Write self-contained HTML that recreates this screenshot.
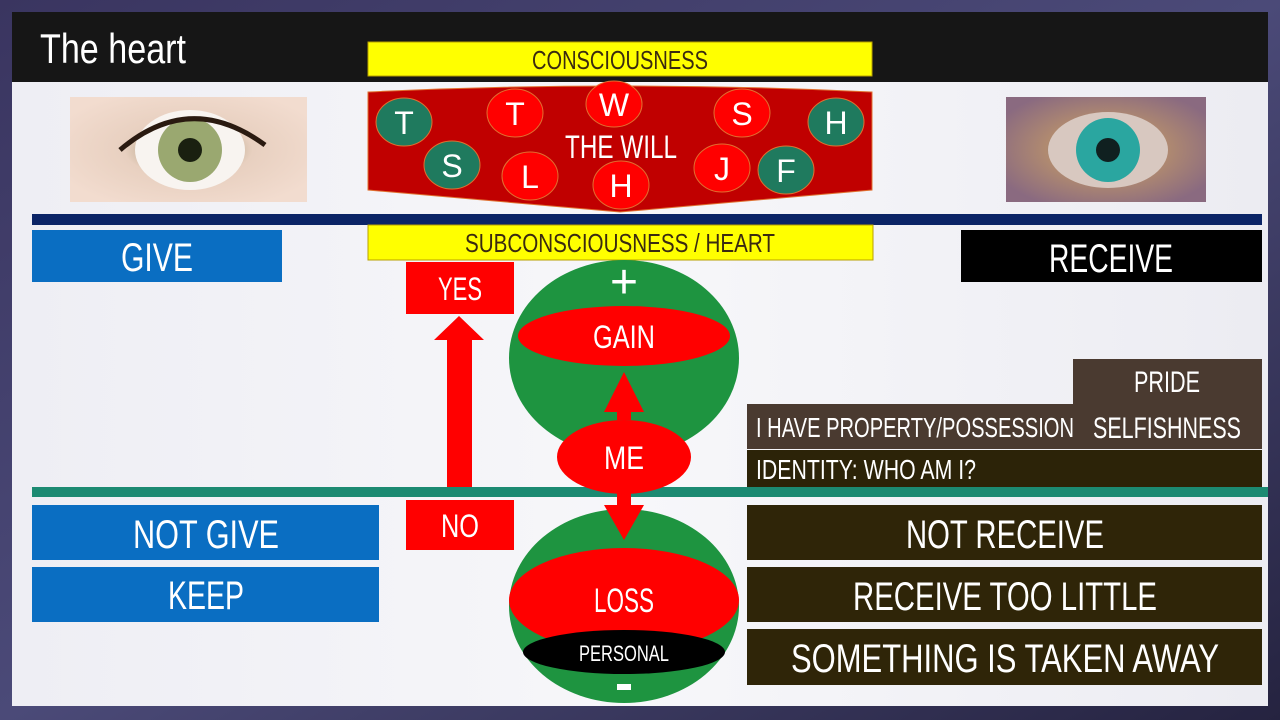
<!DOCTYPE html>
<html><head><meta charset="utf-8"><style>
html,body{margin:0;padding:0;background:#2a2748;}
svg{display:block}
text{font-family:"Liberation Sans Narrow","Liberation Sans",sans-serif;fill:#fff}
</style></head><body>
<svg width="1280" height="720" viewBox="0 0 1280 720" xmlns="http://www.w3.org/2000/svg">
<defs>
<linearGradient id="bg" x1="0" y1="0" x2="1" y2="1"><stop offset="0" stop-color="#3a3560"/><stop offset="0.5" stop-color="#4b4a78"/><stop offset="1" stop-color="#252340"/></linearGradient>
<linearGradient id="panel" x1="0" y1="0" x2="1" y2="0"><stop offset="0" stop-color="#eeeef4"/><stop offset="0.5" stop-color="#f7f7fa"/><stop offset="1" stop-color="#ececf2"/></linearGradient>
<radialGradient id="eye1" cx="0.5" cy="0.5" r="0.6"><stop offset="0" stop-color="#2a3a20"/><stop offset="0.12" stop-color="#8a9a60"/><stop offset="0.22" stop-color="#b5a68a"/><stop offset="0.45" stop-color="#e8d0c0"/><stop offset="1" stop-color="#f2dccf"/></radialGradient>
<radialGradient id="eye2" cx="0.5" cy="0.5" r="0.6"><stop offset="0" stop-color="#102020"/><stop offset="0.12" stop-color="#2aa6a0"/><stop offset="0.25" stop-color="#6a7070"/><stop offset="0.5" stop-color="#b08a70"/><stop offset="1" stop-color="#8a6a80"/></radialGradient>
</defs>
<rect width="1280" height="720" fill="url(#bg)"/>
<rect x="12" y="12" width="1256" height="694" fill="url(#panel)"/>
<rect x="12" y="12" width="1256" height="70" fill="#161616"/>
<text x="40" y="63" font-size="42" font-family="Liberation Sans Narrow" textLength="146" lengthAdjust="spacingAndGlyphs">The heart</text>

<rect x="368" y="42" width="504" height="34" fill="#ffff00" stroke="#b8a000" stroke-width="1"/>
<text x="620" y="69" font-size="26" text-anchor="middle" style="fill:#3a2a10" textLength="176" lengthAdjust="spacingAndGlyphs">CONSCIOUSNESS</text>

<!-- eyes -->
<rect x="70" y="97" width="237" height="105" fill="url(#eye1)"/>
<ellipse cx="190" cy="150" rx="55" ry="40" fill="#f8f4f0"/>
<circle cx="190" cy="150" r="32" fill="#9aa870"/>
<circle cx="190" cy="150" r="12" fill="#1a2010"/>
<path d="M120 150 Q190 90 265 145" stroke="#2a1a10" stroke-width="5" fill="none"/>
<rect x="1006" y="97" width="200" height="105" fill="url(#eye2)"/>
<ellipse cx="1108" cy="150" rx="60" ry="38" fill="#d8c8c0"/>
<circle cx="1108" cy="150" r="32" fill="#2aa6a0"/>
<circle cx="1108" cy="150" r="12" fill="#102020"/>

<!-- will -->
<path d="M368 92 Q620 80 872 92 L872 190 L620 212 L368 190 Z" fill="#c00000" stroke="#e07030" stroke-width="1"/>
<g stroke="#e07030" stroke-width="1">
<ellipse cx="404" cy="122" rx="28" ry="24" fill="#1f7a5e"/>
<ellipse cx="452" cy="165" rx="28" ry="24" fill="#1f7a5e"/>
<ellipse cx="515" cy="113" rx="28" ry="24" fill="#ff0000"/>
<ellipse cx="530" cy="176" rx="28" ry="24" fill="#ff0000"/>
<ellipse cx="614" cy="104" rx="28" ry="23" fill="#ff0000"/>
<ellipse cx="621" cy="185" rx="28" ry="24" fill="#ff0000"/>
<ellipse cx="742" cy="113" rx="28" ry="24" fill="#ff0000"/>
<ellipse cx="722" cy="168" rx="28" ry="24" fill="#ff0000"/>
<ellipse cx="786" cy="170" rx="28" ry="24" fill="#1f7a5e"/>
<ellipse cx="836" cy="122" rx="28" ry="24" fill="#1f7a5e"/>
</g>
<g font-size="32" text-anchor="middle">
<text x="404" y="134">T</text><text x="452" y="177">S</text><text x="515" y="125">T</text><text x="530" y="188">L</text>
<text x="614" y="116">W</text><text x="621" y="197">H</text><text x="742" y="125">S</text><text x="722" y="180">J</text>
<text x="786" y="182">F</text><text x="836" y="134">H</text>
</g>
<text x="621" y="158" font-size="32" text-anchor="middle" textLength="112" lengthAdjust="spacingAndGlyphs">THE WILL</text>

<rect x="32" y="214" width="1230" height="11" fill="#0b2466"/>
<rect x="368" y="225" width="505" height="35" fill="#ffff00" stroke="#b8a000" stroke-width="1"/>
<text x="620" y="252" font-size="26" text-anchor="middle" style="fill:#3a2a10" textLength="310" lengthAdjust="spacingAndGlyphs">SUBCONSCIOUSNESS / HEART</text>

<rect x="32" y="230" width="250" height="52" fill="#0a6ec2"/>
<text x="157" y="271" font-size="40" text-anchor="middle" textLength="72" lengthAdjust="spacingAndGlyphs">GIVE</text>
<rect x="961" y="230" width="301" height="52" fill="#000"/>
<text x="1111" y="272" font-size="40" text-anchor="middle" textLength="124" lengthAdjust="spacingAndGlyphs">RECEIVE</text>

<rect x="406" y="262" width="108" height="52" fill="#ff0000"/>
<text x="460" y="300" font-size="32" text-anchor="middle" textLength="44" lengthAdjust="spacingAndGlyphs">YES</text>
<rect x="406" y="500" width="108" height="50" fill="#ff0000"/>
<text x="460" y="537" font-size="32" text-anchor="middle" textLength="38" lengthAdjust="spacingAndGlyphs">NO</text>
<path d="M447 487 L447 340 L434 340 L459 316 L484 340 L472 340 L472 487 Z" fill="#ff0000"/>

<!-- top circle -->
<ellipse cx="624" cy="358" rx="115" ry="98" fill="#1e9440"/>
<text x="624" y="298" font-size="48" text-anchor="middle">+</text>
<ellipse cx="624" cy="336" rx="106" ry="30" fill="#ff0000"/>
<text x="624" y="348" font-size="32" text-anchor="middle" textLength="62" lengthAdjust="spacingAndGlyphs">GAIN</text>
<path d="M617 420 L617 412 L604 412 L624 372 L644 412 L631 412 L631 420 Z" fill="#ff0000"/>

<!-- bottom circle -->
<ellipse cx="624" cy="606" rx="115" ry="97" fill="#1e9440"/>
<ellipse cx="624" cy="600" rx="115" ry="52" fill="#ff0000"/>
<text x="624" y="612" font-size="34" text-anchor="middle" textLength="60" lengthAdjust="spacingAndGlyphs">LOSS</text>
<ellipse cx="624" cy="652" rx="101" ry="22" fill="#000"/>
<text x="624" y="661" font-size="22" text-anchor="middle" textLength="90" lengthAdjust="spacingAndGlyphs">PERSONAL</text>
<rect x="617" y="684" width="14" height="6" fill="#fff"/>

<rect x="32" y="487" width="1236" height="10" fill="#1c8a72"/>
<path d="M617 490 L631 490 L631 505 L644 505 L624 540 L604 505 L617 505 Z" fill="#ff0000"/>
<ellipse cx="624" cy="457" rx="67" ry="37" fill="#ff0000"/>
<text x="624" y="469" font-size="32" text-anchor="middle" textLength="40" lengthAdjust="spacingAndGlyphs">ME</text>

<!-- right boxes -->
<rect x="1073" y="359" width="189" height="90" fill="#4a3a30"/>
<rect x="747" y="404" width="326" height="45" fill="#4a3a30"/>
<text x="1167" y="392" font-size="30" text-anchor="middle" textLength="66" lengthAdjust="spacingAndGlyphs">PRIDE</text>
<text x="1167" y="438" font-size="30" text-anchor="middle" textLength="148" lengthAdjust="spacingAndGlyphs">SELFISHNESS</text>
<text x="756" y="437" font-size="28" textLength="318" lengthAdjust="spacingAndGlyphs">I HAVE PROPERTY/POSSESSION</text>
<rect x="747" y="450" width="515" height="37" fill="#2c2308"/>
<text x="756" y="479" font-size="28" textLength="220" lengthAdjust="spacingAndGlyphs">IDENTITY: WHO AM I?</text>

<rect x="747" y="505" width="515" height="55" fill="#2f2508"/>
<text x="1005" y="548" font-size="40" text-anchor="middle" textLength="198" lengthAdjust="spacingAndGlyphs">NOT RECEIVE</text>
<rect x="747" y="567" width="515" height="55" fill="#2f2508"/>
<text x="1005" y="610" font-size="40" text-anchor="middle" textLength="304" lengthAdjust="spacingAndGlyphs">RECEIVE TOO LITTLE</text>
<rect x="747" y="629" width="515" height="56" fill="#2f2508"/>
<text x="1005" y="672" font-size="40" text-anchor="middle" textLength="428" lengthAdjust="spacingAndGlyphs">SOMETHING IS TAKEN AWAY</text>

<rect x="32" y="505" width="347" height="55" fill="#0a6ec2"/>
<text x="206" y="548" font-size="40" text-anchor="middle" textLength="146" lengthAdjust="spacingAndGlyphs">NOT GIVE</text>
<rect x="32" y="567" width="347" height="55" fill="#0a6ec2"/>
<text x="206" y="609" font-size="40" text-anchor="middle" textLength="76" lengthAdjust="spacingAndGlyphs">KEEP</text>
</svg>
</body></html>
